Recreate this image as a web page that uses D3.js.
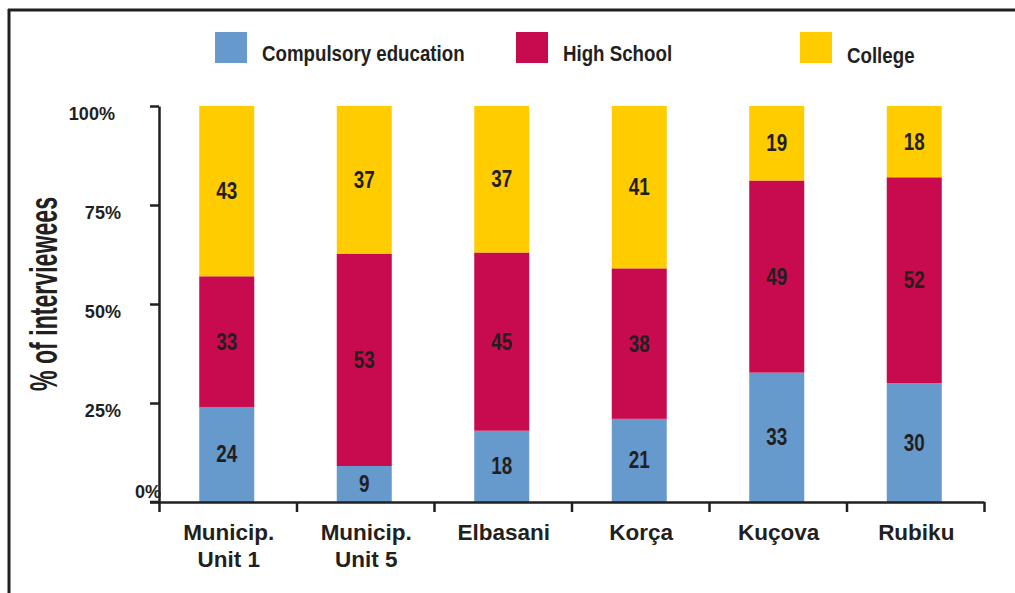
<!DOCTYPE html>
<html>
<head>
<meta charset="utf-8">
<script src="https://cdn.jsdelivr.net/npm/d3@7"></script>
<style>
  html, body { margin: 0; padding: 0; background: #fff; }
  svg { display: block; }
  text { font-family: "Liberation Sans", Arial, sans-serif; font-weight: bold; fill: #231f20; }
</style>
</head>
<body>
<svg id="chart" width="1015" height="593"></svg>
<script>
// ---------- data ----------
const categories = ["Municip.\nUnit 1", "Municip.\nUnit 5", "Elbasani", "Korça", "Kuçova", "Rubiku"];
const seriesNames = ["Compulsory education", "High School", "College"];
const compulsory = [24, 9, 18, 21, 33, 30];
const highSchool = [33, 53, 45, 38, 49, 52];
const college    = [43, 37, 37, 41, 19, 18];
const yTickValues = [0, 0.25, 0.5, 0.75, 1];
const yTickLabels = ["0%", "25%", "50%", "75%", "100%"];
const yTitle = "% of interviewees";
const colors = ["#6699CC", "#C80B4E", "#FFCC00"];

// ---------- setup ----------
const svg = d3.select("#chart");
const W = 1015, H = 593;
const ink = "#231f20";

function condense(sel, ratio) {
  sel.each(function () {
    const len = this.getComputedTextLength();
    d3.select(this).attr("textLength", len * ratio).attr("lengthAdjust", "spacingAndGlyphs");
  });
}

// frame
svg.append("line").attr("x1", 8).attr("x2", W).attr("y1", 10).attr("y2", 10)
  .attr("stroke", ink).attr("stroke-width", 3);
svg.append("line").attr("x1", 9).attr("x2", 9).attr("y1", 9).attr("y2", H)
  .attr("stroke", ink).attr("stroke-width", 3);

const x = d3.scaleBand().domain(d3.range(categories.length)).range([159, 984])
  .paddingInner(0.6).paddingOuter(0.3);
const xb = d3.scaleLinear().domain([0, categories.length]).range([159, 984]);
const y = d3.scaleLinear().domain([0, 1]).range([502, 106]);

// stacked data (normalized to 100%)
const rows = categories.map((c, i) => {
  const vals = [compulsory[i], highSchool[i], college[i]];
  const tot = d3.sum(vals);
  const r = { i };
  seriesNames.forEach((s, k) => { r[s] = vals[k] / tot; r[s + "_raw"] = vals[k]; });
  return r;
});
const stack = d3.stack().keys(seriesNames)(rows);

// bars
const g = svg.append("g");
stack.forEach((layer, k) => {
  g.selectAll(null).data(layer).enter().append("rect")
    .attr("x", d => x(d.data.i) - 1)
    .attr("width", x.bandwidth())
    .attr("y", d => y(d[1]))
    .attr("height", d => y(d[0]) - y(d[1]))
    .attr("fill", colors[k]);
});
// value labels
stack.forEach((layer, k) => {
  g.selectAll(null).data(layer).enter().append("text")
    .attr("x", d => x(d.data.i) - 1 + x.bandwidth() / 2)
    .attr("y", d => (y(d[0]) + y(d[1])) / 2 + 8)
    .attr("text-anchor", "middle")
    .attr("font-size", 23)
    .text(d => d.data[layer.key + "_raw"])
    .call(condense, 0.82);
});

// y axis
const yAxis = svg.append("g").attr("transform", "translate(159,0)")
  .call(d3.axisLeft(y).tickValues(yTickValues).tickSize(9).tickSizeOuter(0).tickFormat(""));
yAxis.selectAll("path, line").attr("stroke", ink).attr("stroke-width", 2.5);
// y tick labels
svg.append("g").selectAll("text").data(yTickValues).enter().append("text")
  .attr("x", (v) => v === 0 ? 161 : (v === 1 ? 115 : 121))
  .attr("y", (v) => v === 0 ? y(v) - 4 : y(v) + 13.5)
  .attr("text-anchor", "end")
  .attr("font-size", 19)
  .text((v, i) => yTickLabels[i])
  .call(condense, 0.95);

// x axis
const xAxis = svg.append("g").attr("transform", "translate(0,502)")
  .call(d3.axisBottom(xb).tickValues(d3.range(categories.length + 1)).tickSize(10).tickSizeOuter(0).tickFormat(""));
xAxis.selectAll("path, line").attr("stroke", ink).attr("stroke-width", 2.5);
svg.append("line").attr("x1", 150).attr("x2", 160).attr("y1", 502).attr("y2", 502)
  .attr("stroke", ink).attr("stroke-width", 2.5);

// x labels
const xl = svg.append("g").selectAll("text").data(categories).enter().append("text")
  .attr("text-anchor", "middle")
  .attr("font-size", 22.5)
  .attr("transform", (c, i) => `translate(${x(i) + x.bandwidth() / 2 + 1},540)`);
xl.each(function (c) {
  const t = d3.select(this);
  c.split("\n").forEach((line, j) => {
    t.append("tspan").attr("x", 0).attr("dy", j === 0 ? 0 : 27).text(line);
  });
});

// y title
svg.append("text")
  .attr("transform", "translate(57,294) rotate(-90)")
  .attr("text-anchor", "middle")
  .attr("font-size", 39)
  .attr("textLength", 194).attr("lengthAdjust", "spacingAndGlyphs")
  .text(yTitle);

// legend
const legendX = [215, 516, 800];
const legendBase = [61, 61, 63];
const lg = svg.append("g").selectAll("g").data(seriesNames).enter().append("g");
lg.append("rect")
  .attr("x", (s, k) => legendX[k]).attr("y", 32)
  .attr("width", 32).attr("height", 31)
  .attr("fill", (s, k) => colors[k]);
lg.append("text")
  .attr("x", (s, k) => legendX[k] + 47)
  .attr("y", (s, k) => legendBase[k])
  .attr("font-size", 22)
  .text(s => s)
  .call(condense, 0.85);
</script>
</body>
</html>
